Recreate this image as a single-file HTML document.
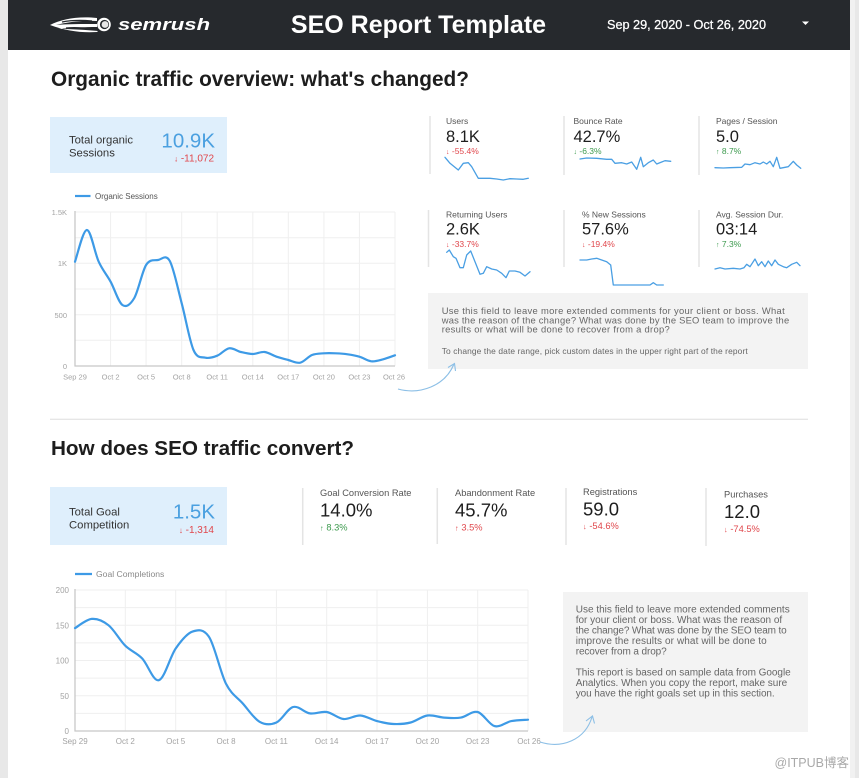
<!DOCTYPE html>
<html>
<head>
<meta charset="utf-8">
<style>
  html, body { margin:0; padding:0; width:859px; height:778px; overflow:hidden; background:#e8e8e8; }
  svg { display:block; font-family:"Liberation Sans", "Noto Sans CJK SC", sans-serif; }
  .lbl { fill:#555; }
  .val { fill:#1e1e1e; }
  .red { fill:#e0474c; }
  .grn { fill:#3d9a4e; }
  .tick { fill:#a3a3a3; font-size:7.5px; }
  .tick2 { fill:#a3a3a3; font-size:8px; }
  .cm { fill:#666; font-size:10px; }
  .cm1 { fill:#666; font-size:9.4px; }
  .grid { stroke:#efefef; stroke-width:1; }
  .spark { fill:none; stroke:#4a9fe3; stroke-width:1.3; stroke-linejoin:round; stroke-linecap:round; }
  .main { fill:none; stroke:#3d9ae6; stroke-width:2.2; stroke-linejoin:round; stroke-linecap:round; }
  .div { stroke:#e4e4e4; stroke-width:1.5; }
</style>
</head>
<body>
<svg width="859" height="778" viewBox="0 0 859 778" xmlns="http://www.w3.org/2000/svg">
  <rect x="0" y="0" width="859" height="778" fill="#e8e8e8"/>
  <rect x="8" y="0" width="842" height="778" fill="#ffffff"/>
  <rect x="850" y="0" width="5" height="778" fill="#f1f1f1"/>
  <rect x="8" y="0" width="842" height="50" fill="#26292d"/>
  <g fill="#ffffff">
    <path d="M50,25 C62,19 78,16 97,18 L97,21 C82,20 68,22 56,25 C68,24 82,24 97,24 L97,27 C84,27 70,28 58,29 C72,29 86,30 98,31 L97,32 C82,33 66,31 50,25 Z"/>
  </g>
  <g fill="none" stroke="#26292d" stroke-width="1.2">
    <path d="M62,22 C72,20 82,20 92,21"/>
    <path d="M66,28 C76,27 86,28 94,29"/>
  </g>
  <circle cx="104" cy="24.5" r="6.8" fill="#ffffff"/>
  <circle cx="104.5" cy="24.5" r="4.6" fill="#26292d"/>
  <circle cx="105" cy="24.5" r="3.4" fill="#e6e6e6"/>
  <text x="118" y="30" font-size="17" font-weight="bold" font-style="italic" fill="#ffffff" transform="translate(118 0) scale(1.3 1) translate(-118 0)">semrush</text>

  <text x="418.5" y="33" font-size="25" font-weight="bold" fill="#ffffff" text-anchor="middle">SEO Report Template</text>
  <text x="607" y="29" font-size="12.7" fill="#ffffff" stroke="#ffffff" stroke-width="0.25" textLength="159">Sep 29, 2020 - Oct 26, 2020</text>
  <polygon points="802,21.5 809,21.5 805.5,25" fill="#ffffff"/>

  <text x="51" y="86" font-size="20.8" font-weight="bold" fill="#1d1d1d" textLength="418">Organic traffic overview: what's changed?</text>

  <rect x="50" y="117" width="177" height="56" fill="#dfeffc"/>
  <text x="69" y="143.5" font-size="11.3" fill="#333">Total organic</text>
  <text x="69" y="156.5" font-size="11.3" fill="#333">Sessions</text>
  <text x="215" y="147.5" font-size="20.5" fill="#4ba0e0" text-anchor="end">10.9K</text>
  <text x="214" y="161.5" font-size="10" class="red" text-anchor="end"><tspan font-size="8">↓</tspan> -11,072</text>

  <line x1="430" y1="116" x2="430" y2="174" class="div"/>
  <line x1="564" y1="116" x2="564" y2="175" class="div"/>
  <line x1="699" y1="116" x2="699" y2="175" class="div"/>
  <text x="446" y="124" font-size="8.5" class="lbl">Users</text>
  <text x="446" y="142" font-size="16.5" class="val">8.1K</text>
  <text x="446" y="154" font-size="8.5" class="red"><tspan font-size="7">↓</tspan> -55.4%</text>
  <text x="573.5" y="124" font-size="8.5" class="lbl">Bounce Rate</text>
  <text x="573.5" y="142" font-size="16.5" class="val">42.7%</text>
  <text x="573.5" y="154" font-size="8.5" class="grn"><tspan font-size="7">↓</tspan> -6.3%</text>
  <text x="716" y="124" font-size="8.5" class="lbl">Pages / Session</text>
  <text x="716" y="142" font-size="16.5" class="val">5.0</text>
  <text x="716" y="154" font-size="8.5" class="grn"><tspan font-size="7">↑</tspan> 8.7%</text>

  <polyline class="spark" points="445,157.3 450,163.3 458.3,170 463.3,163.3 468.3,162.7 471.7,166.7 478.3,178.3 483.3,178.3 490,178.3 496.7,179 503.3,180 510,178.7 516.7,179 523.3,179.3 528.3,178.3"/>
  <polyline class="spark" points="580,159 586.7,158 596.7,158.3 606.7,159.3 611.7,159.3 615,163.3 621.7,162.7 626.7,164 631.7,162 636.7,169.3 640.7,157.3 643.3,166.7 648.3,162.7 653.3,160 656.7,164 661.7,162 665,160.7 670.7,161.3"/>
  <polyline class="spark" points="715,167.7 723.3,168 730,167.7 741.7,167.3 745,164 750,164.7 755,162.7 760,164 763.3,162 766.7,164 770,161.3 773.3,166.7 776.7,157.3 780,168.3 788.3,166.7 793.3,161.3 796.7,165 800.7,168.3"/>

  <line x1="428.5" y1="210" x2="428.5" y2="267" class="div"/>
  <line x1="564" y1="210" x2="564" y2="267" class="div"/>
  <line x1="699" y1="210" x2="699" y2="267" class="div"/>
  <text x="446" y="217.5" font-size="8.5" class="lbl">Returning Users</text>
  <text x="446" y="234.3" font-size="16.5" class="val">2.6K</text>
  <text x="446" y="247" font-size="8.5" class="red"><tspan font-size="7">↓</tspan> -33.7%</text>
  <text x="582" y="217.5" font-size="8.5" class="lbl">% New Sessions</text>
  <text x="582" y="234.3" font-size="16.5" class="val">57.6%</text>
  <text x="582" y="247" font-size="8.5" class="red"><tspan font-size="7">↓</tspan> -19.4%</text>
  <text x="716" y="217.5" font-size="8.5" class="lbl">Avg. Session Dur.</text>
  <text x="716" y="234.3" font-size="16.5" class="val">03:14</text>
  <text x="716" y="247" font-size="8.5" class="grn"><tspan font-size="7">↑</tspan> 7.3%</text>

  <polyline class="spark" points="446.7,252.3 449.3,250 453.3,256.7 456,258.3 460,267.7 463.3,267.7 466.7,255 470.7,251 475,261.7 480,274.3 483.3,273.3 486.7,266.7 491.7,269 496.7,270 501.7,273.3 506,277.7 509.3,271 515,271 520,272.3 525,276 530,271.7"/>
  <polyline class="spark" points="580,260 586.7,260 591.7,259 596.7,258.3 601.7,260 606.7,261.7 610.7,265 613.3,285 620,285 650,285 653.3,282.7 656.7,285 663.3,285"/>
  <polyline class="spark" points="715,269 720,267.7 725,269 733.3,268.3 740,269 744,267.7 746.7,264.3 750,266.7 755,259 758.3,265.7 761.7,261.7 765,266.7 768.3,261 771.7,265.7 775,260 778.3,264.3 783.3,266.7 786.7,267.7 791.7,264.3 796.7,262.3 800,265.7"/>

  <rect x="428" y="293" width="380" height="76" fill="#f3f3f3"/>
  <text x="441.7" y="314" class="cm1" textLength="343">Use this field to leave more extended comments for your client or boss. What</text>
  <text x="441.7" y="323.3" class="cm1" textLength="347.5">was the reason of the change? What was done by the SEO team to improve the</text>
  <text x="441.7" y="332.6" class="cm1" textLength="228">results or what will be done to recover from a drop?</text>
  <text x="441.7" y="354" class="cm1" textLength="306" style="font-size:8.4px">To change the date range, pick custom dates in the upper right part of the report</text>

  <path d="M398,389 C420,395 445,386 454,364" fill="none" stroke="#8cbfe6" stroke-width="1.1"/>
  <path d="M448,367.5 L454.5,363.5 L455.5,371" fill="none" stroke="#8cbfe6" stroke-width="1.1"/>

  <line x1="75" y1="196" x2="90.5" y2="196" stroke="#3d9ae6" stroke-width="2.2"/>
  <text x="95" y="199" font-size="8" fill="#555">Organic Sessions</text>
  <g class="grid">
    <line x1="75" y1="212" x2="395" y2="212"/>
    <line x1="75" y1="237.7" x2="395" y2="237.7"/>
    <line x1="75" y1="263.3" x2="395" y2="263.3"/>
    <line x1="75" y1="289" x2="395" y2="289"/>
    <line x1="75" y1="314.7" x2="395" y2="314.7"/>
    <line x1="75" y1="340.3" x2="395" y2="340.3"/>
    <line x1="110.6" y1="212" x2="110.6" y2="366"/>
    <line x1="146.1" y1="212" x2="146.1" y2="366"/>
    <line x1="181.7" y1="212" x2="181.7" y2="366"/>
    <line x1="217.2" y1="212" x2="217.2" y2="366"/>
    <line x1="252.8" y1="212" x2="252.8" y2="366"/>
    <line x1="288.3" y1="212" x2="288.3" y2="366"/>
    <line x1="323.9" y1="212" x2="323.9" y2="366"/>
    <line x1="359.4" y1="212" x2="359.4" y2="366"/>
    <line x1="395" y1="212" x2="395" y2="366"/>
  </g>
  <line x1="75" y1="211" x2="75" y2="366.5" stroke="#c8c8c8" stroke-width="1.3"/>
  <line x1="74.5" y1="366" x2="395" y2="366" stroke="#c8c8c8" stroke-width="1.3"/>
  <text x="67" y="215" class="tick" text-anchor="end">1.5K</text>
  <text x="67" y="266" class="tick" text-anchor="end">1K</text>
  <text x="67" y="318" class="tick" text-anchor="end">500</text>
  <text x="67" y="369" class="tick" text-anchor="end">0</text>
  <g class="tick" text-anchor="middle">
    <text x="75" y="379.5">Sep 29</text>
    <text x="110.6" y="379.5">Oct 2</text>
    <text x="146.1" y="379.5">Oct 5</text>
    <text x="181.7" y="379.5">Oct 8</text>
    <text x="217.2" y="379.5">Oct 11</text>
    <text x="252.8" y="379.5">Oct 14</text>
    <text x="288.3" y="379.5">Oct 17</text>
    <text x="323.9" y="379.5">Oct 20</text>
    <text x="359.4" y="379.5">Oct 23</text>
    <text x="394" y="379.5">Oct 26</text>
  </g>
  <polyline class="main sm" points="75,261.7 86.9,230 98.7,261.7 110.6,281.7 122.4,305 134.3,298 146.1,265 158,260 169.8,261 181.7,303.3 193.5,350 205.4,357.7 217.2,355.7 229.1,348.3 240.9,352 252.8,354 264.6,352 276.5,356.7 288.3,360 300.2,362.7 312,355 323.9,353.3 335.7,353.3 347.6,354.3 359.4,356.7 371.3,361.3 383.1,359.3 395,355.3"/>

  <line x1="50" y1="419.3" x2="808" y2="419.3" stroke="#e6e6e6" stroke-width="1.3"/>

  <text x="51" y="455" font-size="20.7" font-weight="bold" fill="#1d1d1d" textLength="303">How does SEO traffic convert?</text>

  <rect x="50" y="487" width="177" height="58" fill="#dfeffc"/>
  <text x="69" y="515.5" font-size="11.3" fill="#333">Total Goal</text>
  <text x="69" y="528.5" font-size="11.3" fill="#333">Competition</text>
  <text x="215" y="518.5" font-size="20.5" fill="#4ba0e0" text-anchor="end">1.5K</text>
  <text x="214" y="533" font-size="10" class="red" text-anchor="end"><tspan font-size="8">↓</tspan> -1,314</text>

  <line x1="302.7" y1="488" x2="302.7" y2="545" class="div"/>
  <line x1="437.3" y1="488" x2="437.3" y2="544" class="div"/>
  <line x1="566" y1="488" x2="566" y2="545" class="div"/>
  <line x1="706" y1="488" x2="706" y2="546" class="div"/>

  <text x="320" y="496" font-size="9.3" class="lbl">Goal Conversion Rate</text>
  <text x="320" y="516.5" font-size="18.5" class="val">14.0%</text>
  <text x="320" y="530.5" font-size="9.3" class="grn"><tspan font-size="7.5">↑</tspan> 8.3%</text>

  <text x="455" y="496" font-size="9.3" class="lbl">Abandonment Rate</text>
  <text x="455" y="516.5" font-size="18.5" class="val">45.7%</text>
  <text x="455" y="530.5" font-size="9.3" class="red"><tspan font-size="7.5">↑</tspan> 3.5%</text>

  <text x="583" y="495" font-size="9.3" class="lbl">Registrations</text>
  <text x="583" y="515.5" font-size="18.5" class="val">59.0</text>
  <text x="583" y="529" font-size="9.3" class="red"><tspan font-size="7.5">↓</tspan> -54.6%</text>

  <text x="724" y="497.5" font-size="9.3" class="lbl">Purchases</text>
  <text x="724" y="518" font-size="18.5" class="val">12.0</text>
  <text x="724" y="532" font-size="9.3" class="red"><tspan font-size="7.5">↓</tspan> -74.5%</text>

  <line x1="75" y1="574" x2="92" y2="574" stroke="#3d9ae6" stroke-width="2.2"/>
  <text x="96" y="577" font-size="8.6" fill="#8a8a8a">Goal Completions</text>
  <g class="grid">
    <line x1="75" y1="590" x2="528" y2="590"/>
    <line x1="75" y1="607.6" x2="528" y2="607.6"/>
    <line x1="75" y1="625.3" x2="528" y2="625.3"/>
    <line x1="75" y1="642.9" x2="528" y2="642.9"/>
    <line x1="75" y1="660.5" x2="528" y2="660.5"/>
    <line x1="75" y1="678.1" x2="528" y2="678.1"/>
    <line x1="75" y1="695.8" x2="528" y2="695.8"/>
    <line x1="75" y1="713.4" x2="528" y2="713.4"/>
    <line x1="125.3" y1="590" x2="125.3" y2="731"/>
    <line x1="175.7" y1="590" x2="175.7" y2="731"/>
    <line x1="226" y1="590" x2="226" y2="731"/>
    <line x1="276.4" y1="590" x2="276.4" y2="731"/>
    <line x1="326.7" y1="590" x2="326.7" y2="731"/>
    <line x1="377" y1="590" x2="377" y2="731"/>
    <line x1="427.4" y1="590" x2="427.4" y2="731"/>
    <line x1="477.7" y1="590" x2="477.7" y2="731"/>
    <line x1="528" y1="590" x2="528" y2="731"/>
  </g>
  <line x1="75" y1="589" x2="75" y2="731.5" stroke="#c8c8c8" stroke-width="1.3"/>
  <line x1="74.5" y1="731" x2="528" y2="731" stroke="#c8c8c8" stroke-width="1.3"/>
  <text x="69" y="593" class="tick2" text-anchor="end">200</text>
  <text x="69" y="628.3" class="tick2" text-anchor="end">150</text>
  <text x="69" y="663.5" class="tick2" text-anchor="end">100</text>
  <text x="69" y="698.8" class="tick2" text-anchor="end">50</text>
  <text x="69" y="734" class="tick2" text-anchor="end">0</text>
  <g class="tick2" text-anchor="middle">
    <text x="75" y="744">Sep 29</text>
    <text x="125.3" y="744">Oct 2</text>
    <text x="175.7" y="744">Oct 5</text>
    <text x="226" y="744">Oct 8</text>
    <text x="276.4" y="744">Oct 11</text>
    <text x="326.7" y="744">Oct 14</text>
    <text x="377" y="744">Oct 17</text>
    <text x="427.4" y="744">Oct 20</text>
    <text x="477.7" y="744">Oct 23</text>
    <text x="529" y="744">Oct 26</text>
  </g>
  <polyline class="main sm" points="75,628.1 91.8,618.9 108.6,625.3 125.3,645.7 142.1,658.4 158.9,680.2 175.7,648.5 192.5,631.6 209.2,637.2 226,683.8 242.8,703.5 259.6,721.8 276.4,722.5 293.1,707 309.9,713.4 326.7,712 343.5,719 360.3,715.5 377,721.1 393.8,724 410.6,722.5 427.4,715.5 444.2,717.6 460.9,717.6 477.7,712 494.5,726.1 511.3,721.1 528,719.7"/>

  <rect x="563" y="592" width="245" height="140" fill="#f3f3f3"/>
  <text x="575.7" y="612.3" class="cm" textLength="214">Use this field to leave more extended comments</text>
  <text x="575.7" y="622.8" class="cm" textLength="206.5">for your client or boss. What was the reason of</text>
  <text x="575.7" y="633.3" class="cm" textLength="211">the change? What was done by the SEO team to</text>
  <text x="575.7" y="643.8" class="cm" textLength="191">improve the results or what will be done to</text>
  <text x="575.7" y="654.3" class="cm" textLength="91">recover from a drop?</text>
  <text x="575.7" y="675.3" class="cm" textLength="215">This report is based on sample data from Google</text>
  <text x="575.7" y="685.8" class="cm" textLength="211.5">Analytics. When you copy the report, make sure</text>
  <text x="575.7" y="696.3" class="cm" textLength="199">you have the right goals set up in this section.</text>

  <path d="M540,742 C562,749 585,740 592,717" fill="none" stroke="#8cbfe6" stroke-width="1.1"/>
  <path d="M586,721 L592.5,716 L594.5,723.5" fill="none" stroke="#8cbfe6" stroke-width="1.1"/>

  <text x="849" y="767" font-size="12.5" fill="#a9a9a9" text-anchor="end" font-family="Liberation Sans, Noto Sans CJK SC, sans-serif">@ITPUB博客</text>
</svg>
<script>
(function(){
  var pls = document.querySelectorAll('polyline.sm');
  for (var k=0;k<pls.length;k++){
    var pl = pls[k];
    var raw = pl.getAttribute('points').trim().split(/\s+/).map(function(s){var a=s.split(',');return [parseFloat(a[0]),parseFloat(a[1])];});
    var d = 'M'+raw[0][0]+','+raw[0][1];
    for (var i=0;i<raw.length-1;i++){
      var p0 = raw[i-1]||raw[i], p1=raw[i], p2=raw[i+1], p3=raw[i+2]||raw[i+1];
      var c1x = p1[0]+(p2[0]-p0[0])/6, c1y = p1[1]+(p2[1]-p0[1])/6;
      var c2x = p2[0]-(p3[0]-p1[0])/6, c2y = p2[1]-(p3[1]-p1[1])/6;
      d += ' C'+c1x.toFixed(2)+','+c1y.toFixed(2)+' '+c2x.toFixed(2)+','+c2y.toFixed(2)+' '+p2[0]+','+p2[1];
    }
    var path = document.createElementNS('http://www.w3.org/2000/svg','path');
    path.setAttribute('d', d);
    path.setAttribute('class', 'main');
    pl.parentNode.replaceChild(path, pl);
  }
})();
</script>
</body>
</html>
